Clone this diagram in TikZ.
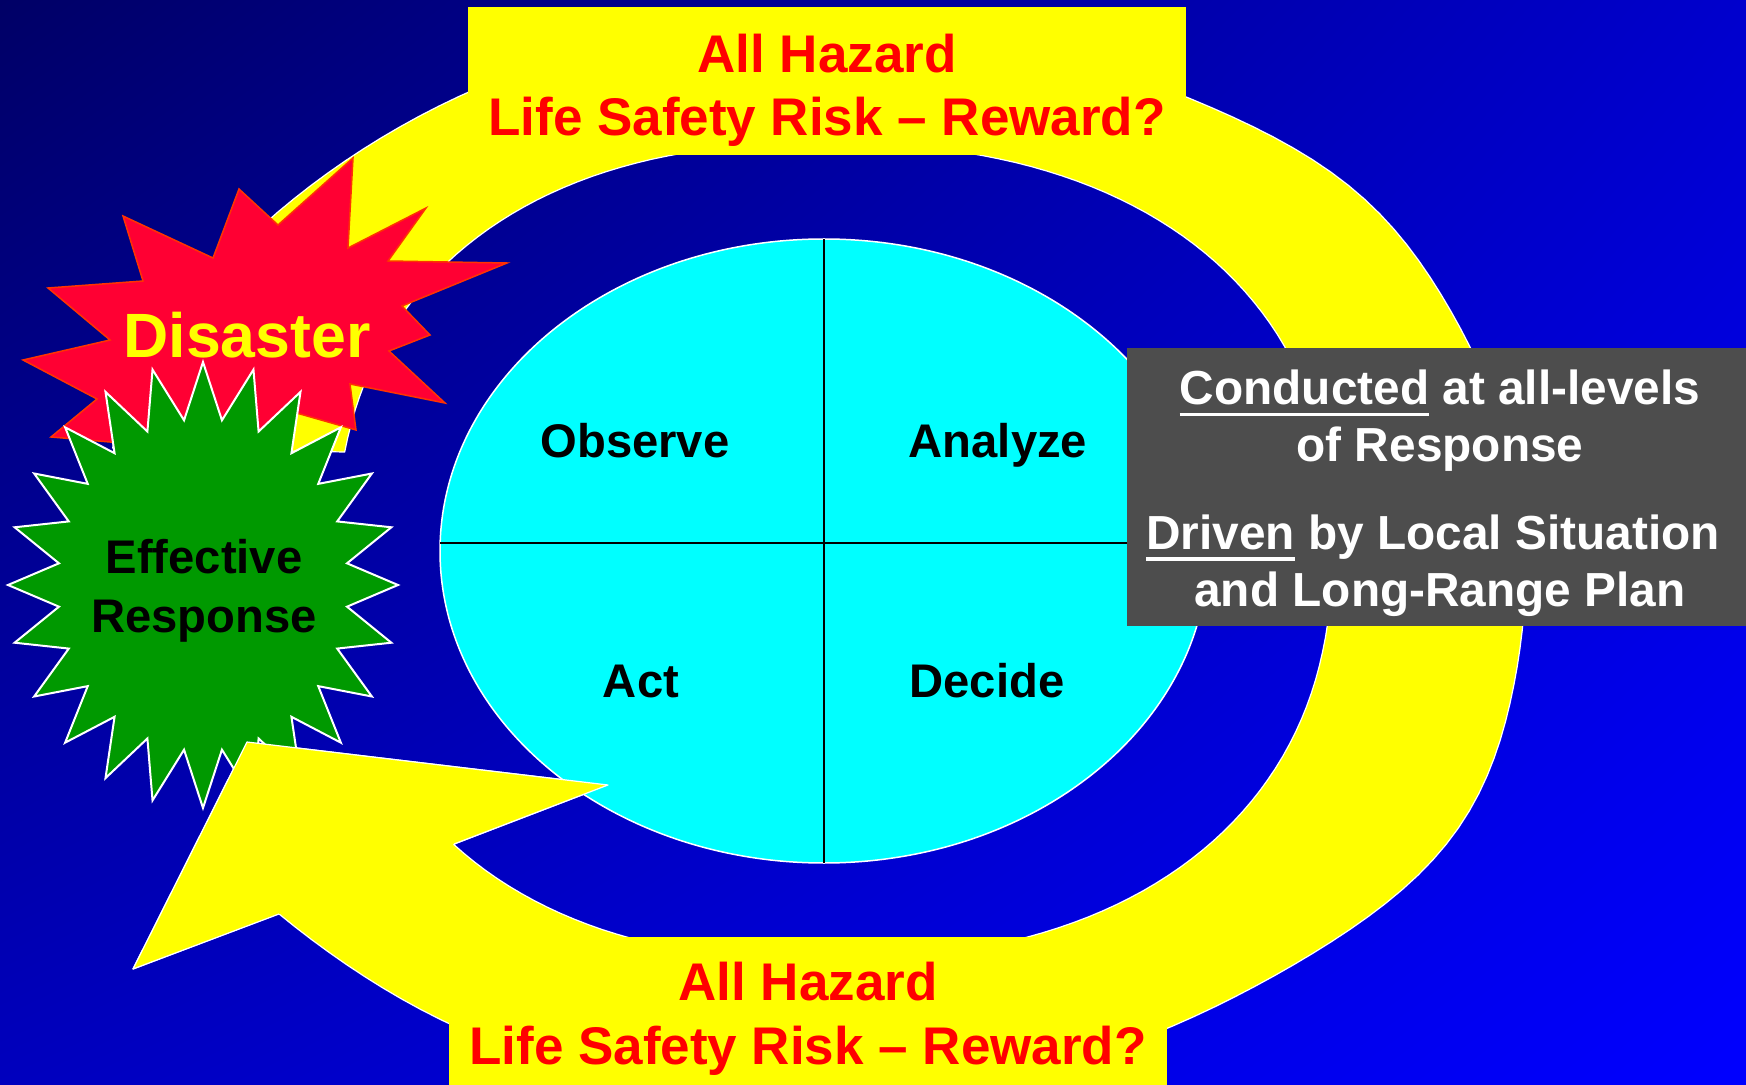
\documentclass[tikz,border=0pt]{standalone}
\usepackage{fontspec}
\setmainfont{Liberation Sans}
\usetikzlibrary{shadings}
\definecolor{bgTL}{RGB}{0,0,102}
\definecolor{bgTR}{RGB}{0,0,205}
\definecolor{bgBL}{RGB}{0,0,190}
\definecolor{bgBR}{RGB}{0,0,255}
\definecolor{ringyellow}{RGB}{255,255,0}
\definecolor{hazardred}{RGB}{255,0,0}
\definecolor{cyanfill}{RGB}{0,255,255}
\definecolor{starred}{RGB}{255,0,51}
\definecolor{starredline}{RGB}{255,51,0}
\definecolor{stargreen}{RGB}{0,153,0}
\definecolor{boxgray}{RGB}{77,77,77}
\newcommand\myul[1]{\setbox0=\hbox{#1}\rlap{\rule[-5.6pt]{\wd0}{1.6pt}}\box0\relax}
\begin{document}
\begin{tikzpicture}[x=0.5pt,y=-0.5pt,
  declare function={
    og(\t)=1+0.034*exp(-1*((\t+30)/16)^2)+0.024*exp(-1*((\t-42)/14)^2)-0.016*exp(-1*((\t-135)/25)^2)-0.01*exp(-1*((\t+135)/15)^2);
    ox(\t)=810+715*cos(\t)*og(\t);
    oy(\t)=560-540*sin(\t)*og(\t);
    ix(\t)=822+(cos(\t)>0 ? 510 : -485)*(abs(cos(\t))+0.000001)^0.87;
    iy(\t)=548-(sin(\t)>0 ? 405 : -412)*(abs(sin(\t))+0.000001)^0.87;
  },
  ringstyle/.style={fill=ringyellow, draw=white, line width=0.6pt, line join=round},
  banner/.style={fill=ringyellow},
  hazardtext/.style={anchor=base, inner sep=0pt, text=hazardred, font=\fontsize{26.5pt}{32pt}\selectfont\bfseries},
  quadtext/.style={anchor=base, inner sep=0pt, text=black, font=\fontsize{23.6pt}{28pt}\selectfont\bfseries},
  boxtext/.style={anchor=base, inner sep=0pt, text=white, font=\fontsize{23.9pt}{29pt}\selectfont\bfseries},
  crossline/.style={draw=black, line width=0.75pt}]
\useasboundingbox (0,0) rectangle (1746,1085);
\begin{scope}
\clip (0,0) rectangle (1746,1085);
% background
\shade[upper left=bgTL, upper right=bgTR, lower left=bgBL, lower right=bgBR] (0,0) rectangle (1746,1085);
% arrow head corners
\coordinate (tip) at (247,742);
\coordinate (barbR) at (608,785);
\coordinate (barbL) at (133,969);
\coordinate (notchIn) at (454,844);
\coordinate (notchOut) at (279,914);
% circular arrow ring
\path[ringstyle]
  plot[domain=-168:138.6, samples=160, variable=\u] ({ox(-1*\u)},{oy(-1*\u)})
  -- (barbL) -- (tip) -- (barbR)
  -- plot[domain=-136.8:169, samples=160, variable=\u] ({ix(\u)},{iy(\u)})
  -- cycle;
% banners
\fill[banner] (468,7) rectangle (1186,155);
\fill[banner] (449,937) rectangle (1167,1085);
% OODA ellipse
\draw[fill=cyanfill, draw=white, line width=0.75pt] (824,551) ellipse [x radius=384, y radius=312];
\coordinate (ellW) at (440,543);
\coordinate (ellE) at (1208,543);
\coordinate (ellN) at (824,239);
\coordinate (ellS) at (824,863);
\draw[crossline] (ellW) -- (ellE);
\draw[crossline] (ellN) -- (ellS);
% Disaster explosion
\draw[fill=starred, draw=starredline, line width=0.75pt, line join=miter]
  (239,189) -- (278,225) -- (353,158) -- (348,248) -- (426,208) -- (388,261) -- (507,263) -- (402,306) -- (430,335) -- (389,351) -- (445,403) -- (350,384) -- (356,430) -- (293,412) -- (270,440) -- (200,450) -- (130,445) -- (110,442) -- (51,437) -- (97,399) -- (23,360) -- (110,340) -- (48,288) -- (143,281) -- (123,216) -- (213,258) -- cycle;
% Effective Response star (24 points)
\draw[fill=stargreen, draw=white, line width=1pt, line join=miter]
  (398,585) \foreach \i [evaluate=\i as \f using {mod(\i,2)==0 ? 1 : 0.745}] in {1,...,47} { -- ({203+195*\f*cos(\i*7.5)},{585-223*\f*sin(\i*7.5)}) } -- cycle;
% arrowhead drawn again on top of the star
\fill[ringyellow] (tip) -- (barbR) -- (notchIn) -- (notchOut) -- (barbL) -- cycle;
\draw[white, line width=0.6pt, line join=round] (notchOut) -- (barbL) -- (tip) -- (barbR) -- (notchIn);
% gray box
\fill[boxgray] (1127,348) rectangle (1746,626);
% texts
\node[hazardtext] (th1) at (827,72.4) {All Hazard};
\node[hazardtext] (th2) at (827,135.8) {Life Safety Risk -- Reward?};
\node[hazardtext] (bh1) at (808,1000.5) {All Hazard};
\node[hazardtext] (bh2) at (808,1064.5) {Life Safety Risk -- Reward?};
\node[anchor=base, inner sep=0pt, text=ringyellow, font=\fontsize{31.3pt}{36pt}\selectfont\bfseries] (dis) at (247,358) {Disaster};
\node[quadtext] (eff1) at (204,573.6) {Effective};
\node[quadtext] (eff2) at (204,632) {Response};
\node[quadtext] (obs) at (635,458) {Observe};
\node[quadtext] (ana) at (998,458) {Analyze};
\node[quadtext] (act) at (641,697.6) {Act};
\node[quadtext] (dec) at (987,697.6) {Decide};
\node[boxtext] (b1) at (1440,405) {\myul{Conducted} at all-levels};
\node[boxtext] (b2) at (1440,462) {of Response};
\node[boxtext] (b3) at (1433,549.5) {\myul{Driven} by Local Situation};
\node[boxtext] (b4) at (1440,606.5) {and Long-Range Plan};
\end{scope}
\end{tikzpicture}
\end{document}
